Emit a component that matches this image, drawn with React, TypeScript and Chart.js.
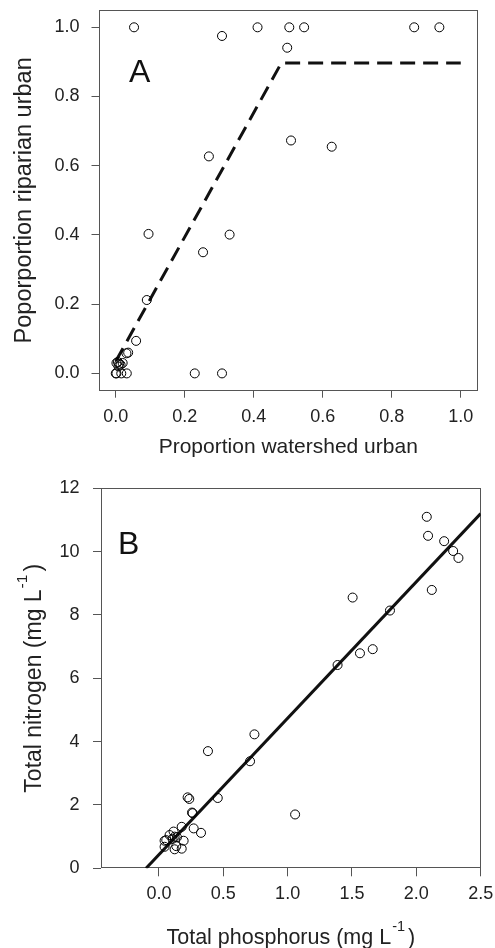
import React, { useEffect, useRef } from "react";
import { Chart, registerables } from "chart.js";

Chart.register(...registerables);

// ---------- Panel A data ----------
const watershedUrban = [
  0.053, 0.308, 0.411, 0.503, 0.546, 0.497, 0.865, 0.938, 0.27, 0.508, 0.626,
  0.095, 0.33, 0.253, 0.09, 0.059, 0.036, 0.031, 0.002, 0.006, 0.01, 0.014,
  0.02, 0.008, 0.0, 0.002, 0.016, 0.032, 0.229, 0.308,
];
const riparianUrban = [
  1.0, 0.975, 1.0, 1.0, 1.0, 0.941, 1.0, 1.0, 0.627, 0.673, 0.655,
  0.403, 0.401, 0.35, 0.212, 0.094, 0.06, 0.058, 0.03, 0.033, 0.028, 0.025,
  0.03, 0.02, 0.0, 0.0, 0.0, 0.0, 0.0, 0.0,
];
const breakLineX = [0.0, 0.48, 1.0];
const breakLineY = [0.035, 0.897, 0.897];
const ticksAX = [0.0, 0.2, 0.4, 0.6, 0.8, 1.0];
const ticksAY = [0.0, 0.2, 0.4, 0.6, 0.8, 1.0];

// ---------- Panel B data ----------
const totalP = [
  2.081, 2.091, 2.216, 2.286, 2.327, 2.12, 1.505, 1.795, 1.562, 1.661, 1.388,
  0.742, 0.381, 0.708, 0.223, 0.236, 0.457, 0.257, 0.262, 1.058, 0.177, 0.27,
  0.327, 0.114, 0.083, 0.122, 0.14, 0.044, 0.057, 0.192, 0.106, 0.044, 0.122,
  0.177, 0.135,
];
const totalN = [
  11.1, 10.5, 10.33, 10.02, 9.8, 8.79, 8.55, 8.14, 6.79, 6.92, 6.42,
  4.23, 3.7, 3.38, 2.24, 2.19, 2.22, 1.76, 1.74, 1.7, 1.31, 1.26,
  1.12, 1.16, 1.05, 1.0, 0.98, 0.87, 0.89, 0.87, 0.93, 0.68, 0.6,
  0.62, 0.7,
];
const fitLineX = [-0.1, 2.5];
const fitLineY = [0.0, 11.2];
const ticksBX = [0.0, 0.5, 1.0, 1.5, 2.0, 2.5];
const ticksBY = [0, 2, 4, 6, 8, 10, 12];

const FONT = "'Liberation Sans', Arial, Helvetica, sans-serif";
const TEXT = "#222";
const AXIS = "#555";

const setTicks = (vals: number[]) => (scale: any) => {
  scale.ticks = vals.map((v) => ({ value: v }));
};
const fixSize = (w?: number, h?: number) => (scale: any) => {
  if (w !== undefined) scale.width = w;
  if (h !== undefined) scale.height = h;
  scale.paddingLeft = 0;
  scale.paddingRight = 0;
  scale.paddingTop = 0;
  scale.paddingBottom = 0;
};

const framePlugin = {
  id: "frame",
  beforeDatasetsDraw(chart: any) {
    const { ctx, chartArea } = chart;
    const l = Math.round(chartArea.left) + 0.5;
    const t = Math.round(chartArea.top) + 0.5;
    const r = Math.round(chartArea.right) - 0.5;
    const b = Math.round(chartArea.bottom) - 0.5;
    ctx.save();
    ctx.strokeStyle = AXIS;
    ctx.lineWidth = 1;
    ctx.strokeRect(l, t, r - l, b - t);
    ctx.restore();
  },
};

const panelLabelPlugin = {
  id: "panelLabel",
  afterDraw(chart: any, _args: any, opts: any) {
    if (!opts || !opts.text) return;
    const { ctx } = chart;
    ctx.save();
    ctx.fillStyle = "#111";
    ctx.font = `32px ${FONT}`;
    ctx.textAlign = "left";
    ctx.textBaseline = "alphabetic";
    ctx.fillText(opts.text, opts.x, opts.y);
    ctx.restore();
  },
};

// draws "main" + superscript + tail, centred horizontally at (0, baseline 0)
function drawSupTitle(
  ctx: CanvasRenderingContext2D,
  main: string,
  sup: string,
  tail: string,
  size: number,
  supSize: number,
  raise: number
) {
  const mainFont = `${size}px ${FONT}`;
  const supFont = `${supSize}px ${FONT}`;
  ctx.font = mainFont;
  const wMain = ctx.measureText(main).width;
  const wTail = ctx.measureText(tail).width;
  ctx.font = supFont;
  const wSup = ctx.measureText(sup).width;
  const gap = 3;
  const total = wMain + 1 + wSup + gap + wTail;
  let x = -total / 2;
  ctx.textAlign = "left";
  ctx.textBaseline = "alphabetic";
  ctx.font = mainFont;
  ctx.fillText(main, x, 0);
  x += wMain + 1;
  ctx.font = supFont;
  ctx.fillText(sup, x, -raise);
  x += wSup + gap;
  ctx.font = mainFont;
  ctx.fillText(tail, x, 0);
}

const supTitlesPlugin = {
  id: "supTitles",
  afterDraw(chart: any, _args: any, opts: any) {
    if (!opts) return;
    const { ctx, chartArea } = chart;
    ctx.save();
    ctx.fillStyle = TEXT;
    // x title
    ctx.save();
    ctx.translate((chartArea.left + chartArea.right) / 2, opts.xBaseline);
    drawSupTitle(ctx, opts.xMain, opts.sup, opts.tail, 21.5, 14.5, 13);
    ctx.restore();
    // y title
    ctx.save();
    ctx.translate(opts.yBaseline, (chartArea.top + chartArea.bottom) / 2);
    ctx.rotate(-Math.PI / 2);
    drawSupTitle(ctx, opts.yMain, opts.sup, opts.tail, 23, 15.5, 14);
    ctx.restore();
    ctx.restore();
  },
};

function pointsDataset(xs: number[], ys: number[]) {
  return {
    data: xs.map((x, i) => ({ x, y: ys[i] })),
    showLine: false,
    pointRadius: 4.5,
    pointBorderWidth: 1,
    pointBorderColor: "#000",
    pointBackgroundColor: "rgba(0,0,0,0)",
    pointStyle: "circle",
  };
}

function lineDataset(xs: number[], ys: number[], dash: number[]) {
  return {
    data: xs.map((x, i) => ({ x, y: ys[i] })),
    showLine: true,
    borderColor: "#111",
    borderWidth: 3,
    borderDash: dash,
    borderCapStyle: "butt",
    pointRadius: 0,
    fill: false,
    tension: 0,
  };
}

function tickFont() {
  return { family: FONT, size: 18 };
}

export default function App() {
  const refA = useRef<HTMLCanvasElement>(null);
  const refB = useRef<HTMLCanvasElement>(null);

  useEffect(() => {
    const chartA = new Chart(refA.current as HTMLCanvasElement, {
      type: "scatter",
      data: {
        datasets: [
          pointsDataset(watershedUrban, riparianUrban) as any,
          lineDataset(breakLineX, breakLineY, [15, 8]) as any,
        ],
      },
      options: {
        responsive: true,
        maintainAspectRatio: false,
        animation: false,
        events: [],
        layout: { padding: { left: 0, right: 17, top: 10, bottom: 0 } },
        plugins: {
          legend: { display: false },
          tooltip: { enabled: false },
          panelLabel: { text: "A", x: 129, y: 81.5 },
        } as any,
        scales: {
          x: {
            type: "linear",
            min: -0.05,
            max: 1.05,
            afterBuildTicks: setTicks(ticksAX),
            afterFit: fixSize(undefined, 83.3),
            ticks: {
              color: TEXT,
              font: tickFont(),
              padding: 9,
              maxRotation: 0,
              callback: (v: any) => Number(v).toFixed(1),
            },
            grid: { drawOnChartArea: false, drawTicks: true, tickLength: 7, color: AXIS, lineWidth: 1 },
            border: { display: false },
            title: {
              display: true,
              text: "Proportion watershed urban",
              color: TEXT,
              font: { family: FONT, size: 21 },
              padding: { top: 0, bottom: 14 },
            },
          },
          y: {
            type: "linear",
            min: -0.05,
            max: 1.05,
            afterBuildTicks: setTicks(ticksAY),
            afterFit: fixSize(98.5, undefined),
            ticks: {
              color: TEXT,
              font: tickFont(),
              padding: 12,
              callback: (v: any) => Number(v).toFixed(1),
            },
            grid: { drawOnChartArea: false, drawTicks: true, tickLength: 7, color: AXIS, lineWidth: 1 },
            border: { display: false },
            title: {
              display: true,
              text: "Poporportion riparian urban",
              color: TEXT,
              font: { family: FONT, size: 23.5 },
              padding: { top: 10.5, bottom: 0 },
            },
          },
        },
      },
      plugins: [framePlugin, panelLabelPlugin],
    });

    const chartB = new Chart(refB.current as HTMLCanvasElement, {
      type: "scatter",
      data: {
        datasets: [
          pointsDataset(totalP, totalN) as any,
          lineDataset(fitLineX, fitLineY, []) as any,
        ],
      },
      options: {
        responsive: true,
        maintainAspectRatio: false,
        animation: false,
        events: [],
        layout: { padding: { left: 0, right: 14.3, top: 14.3, bottom: 0 } },
        plugins: {
          legend: { display: false },
          tooltip: { enabled: false },
          panelLabel: { text: "B", x: 118, y: 79.5 },
          supTitles: {
            xMain: "Total phosphorus (mg L",
            yMain: "Total nitrogen (mg L",
            sup: "-1",
            tail: ")",
            xBaseline: 470,
            yBaseline: 41,
          },
        } as any,
        scales: {
          x: {
            type: "linear",
            min: -0.45,
            max: 2.5,
            afterBuildTicks: setTicks(ticksBX),
            afterFit: fixSize(undefined, 79.7),
            ticks: {
              color: TEXT,
              font: tickFont(),
              padding: 7,
              maxRotation: 0,
              callback: (v: any) => Number(v).toFixed(1),
            },
            grid: { drawOnChartArea: false, drawTicks: true, tickLength: 8, color: AXIS, lineWidth: 1 },
            border: { display: false },
          },
          y: {
            type: "linear",
            min: 0,
            max: 12,
            afterBuildTicks: setTicks(ticksBY),
            afterFit: fixSize(101, undefined),
            ticks: {
              color: TEXT,
              font: tickFont(),
              padding: 13.5,
              callback: (v: any) => String(Math.round(Number(v))),
            },
            grid: { drawOnChartArea: false, drawTicks: true, tickLength: 8, color: AXIS, lineWidth: 1 },
            border: { display: false },
          },
        },
      },
      plugins: [framePlugin, panelLabelPlugin, supTitlesPlugin],
    });

    return () => {
      chartA.destroy();
      chartB.destroy();
    };
  }, []);

  return (
    <div style={{ position: "absolute", left: 0, top: 0, width: 495, height: 948, background: "#fff" }}>
      <div style={{ position: "relative", width: 495, height: 474 }}>
        <canvas ref={refA} />
      </div>
      <div style={{ position: "relative", width: 495, height: 474 }}>
        <canvas ref={refB} />
      </div>
    </div>
  );
}
